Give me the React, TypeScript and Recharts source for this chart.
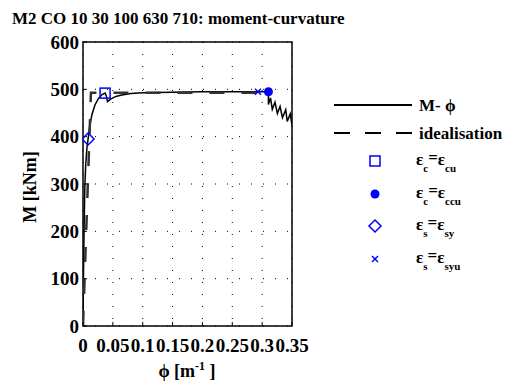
import React from "react";
import {
  CartesianGrid,
  ComposedChart,
  Line,
  ReferenceArea,
  Scatter,
  XAxis,
  YAxis,
} from "recharts";

// moment-curvature response
const curvePhi = [
  0, 0.0005, 0.0012, 0.002, 0.003, 0.0045, 0.0065, 0.0085, 0.011, 0.015, 0.02,
  0.026, 0.032, 0.037, 0.039, 0.041, 0.043, 0.047, 0.055, 0.065, 0.08, 0.1,
  0.15, 0.2, 0.25, 0.3, 0.3105, 0.3105, 0.314, 0.317, 0.3215, 0.3255, 0.33,
  0.334, 0.3395, 0.342, 0.347, 0.35,
];
const curveM = [
  0, 80, 150, 220, 290, 340, 375, 395, 420, 447, 467, 481, 489, 492, 486, 474,
  476, 480, 485, 488, 491, 493, 494, 495, 495, 495, 495, 468, 482, 458, 473,
  449, 464, 440, 457, 432, 448, 424,
];

// bilinear idealisation
const idealPhi = [0, 0.0133, 0.293];
const idealM = [0, 493, 493];

// limit states
const pointCu = [{ phi: 0.037, m: 492 }];
const pointCcu = [{ phi: 0.3105, m: 495 }];
const pointSy = [{ phi: 0.0085, m: 395 }];
const pointSyu = [{ phi: 0.293, m: 495 }];

const xTicks = [0, 0.05, 0.1, 0.15, 0.2, 0.25, 0.3, 0.35];
const yTicks = [0, 100, 200, 300, 400, 500, 600];

const curve = curvePhi.map((phi, i) => ({ phi, m: curveM[i] }));
const ideal = idealPhi.map((phi, i) => ({ phi, m: idealM[i] }));

const FONT = "'Liberation Serif', 'Times New Roman', serif";
const BLUE = "#0000ff";

const tickStyle = { fill: "#000", fontSize: 19, fontWeight: 700, fontFamily: FONT };

const Square = (p: any) => (
  <rect x={p.cx - 5} y={p.cy - 5} width={10} height={10} fill="none" stroke={BLUE} strokeWidth={1.5} />
);
const Dot = (p: any) => <circle cx={p.cx} cy={p.cy} r={4.5} fill={BLUE} />;
const Diamond = (p: any) => (
  <polygon
    points={`${p.cx},${p.cy - 6} ${p.cx + 6},${p.cy} ${p.cx},${p.cy + 6} ${p.cx - 6},${p.cy}`}
    fill="none"
    stroke={BLUE}
    strokeWidth={1.5}
  />
);
const Cross = (p: any) => (
  <g stroke={BLUE} strokeWidth={1.5}>
    <line x1={p.cx - 3} y1={p.cy - 3} x2={p.cx + 3} y2={p.cy + 3} />
    <line x1={p.cx - 3} y1={p.cy + 3} x2={p.cx + 3} y2={p.cy - 3} />
  </g>
);

function Eps({ y, a, b }: { y: number; a: string; b: string }) {
  return (
    <text x={416} y={y} fontSize={17} fontWeight={700} fontFamily={FONT}>
      ε
      <tspan dy={7} fontSize={11}>{a}</tspan>
      <tspan dy={-9} fontSize={17}>=</tspan>
      <tspan dy={2} fontSize={17}>ε</tspan>
      <tspan dy={7} fontSize={11}>{b}</tspan>
    </text>
  );
}

function Overlay() {
  return (
    <svg
      width={511}
      height={385}
      style={{ position: "absolute", left: 0, top: 0, pointerEvents: "none" }}
    >
      <text x={12} y={24} fontSize={17} fontWeight={700} fontFamily={FONT}>
        M2 CO 10 30 100 630 710: moment-curvature
      </text>
      <text
        x={30}
        y={187}
        transform="rotate(-90 30 187)"
        textAnchor="middle"
        dominantBaseline="central"
        fontSize={18}
        fontWeight={700}
        fontFamily={FONT}
      >
        M [kNm]
      </text>
      <text x={187} y={377} textAnchor="middle" fontSize={18} fontWeight={700} fontFamily={FONT}>
        ϕ [m<tspan dy={-7} fontSize={12}>-1</tspan>
        <tspan dy={7}> ]</tspan>
      </text>

      {/* legend */}
      <line x1={334} y1={105} x2={412} y2={105} stroke="#000" strokeWidth={2} />
      <text x={419} y={111} fontSize={17} fontWeight={700} fontFamily={FONT}>
        M- ϕ
      </text>
      <line x1={334} y1={133} x2={412} y2={133} stroke="#000" strokeWidth={2} strokeDasharray="16 15" />
      <text x={419} y={139} fontSize={17} fontWeight={700} fontFamily={FONT}>
        idealisation
      </text>
      <Square cx={375} cy={161} />
      <Eps y={165} a="c" b="cu" />
      <Dot cx={375} cy={194} />
      <Eps y={198} a="c" b="ccu" />
      <Diamond cx={375} cy={226} />
      <Eps y={230} a="s" b="sy" />
      <Cross cx={375} cy={259} />
      <Eps y={263} a="s" b="syu" />
    </svg>
  );
}

export default function App() {
  return (
    <div style={{ position: "absolute", left: 0, top: 0, width: 511, height: 385, background: "#fff" }}>
      <ComposedChart width={511} height={385} margin={{ top: 42, right: 219, bottom: 0, left: 0 }}>
        <CartesianGrid stroke="#000" strokeDasharray="1 11" />
        <XAxis
          dataKey="phi"
          type="number"
          domain={[0, 0.35]}
          ticks={xTicks}
          interval={0}
          allowDataOverflow
          height={59}
          tickSize={-4}
          tickMargin={17}
          axisLine={false}
          tickLine={{ stroke: "#000" }}
          tick={tickStyle}
        />
        <XAxis
          xAxisId="top"
          orientation="top"
          type="number"
          domain={[0, 0.35]}
          ticks={xTicks}
          height={0}
          tickSize={-4}
          axisLine={false}
          tickLine={{ stroke: "#000" }}
          tick={false}
        />
        <YAxis
          type="number"
          domain={[0, 600]}
          ticks={yTicks}
          interval={0}
          allowDataOverflow
          width={83}
          tickSize={-4}
          tickMargin={8}
          axisLine={false}
          tickLine={{ stroke: "#000" }}
          tick={tickStyle}
        />
        <YAxis
          yAxisId="right"
          orientation="right"
          type="number"
          domain={[0, 600]}
          ticks={yTicks}
          width={0}
          tickSize={-4}
          axisLine={false}
          tickLine={{ stroke: "#000" }}
          tick={false}
        />
        <ReferenceArea x1={0} x2={0.35} y1={0} y2={600} fill="none" stroke="#000" strokeWidth={1.5} />
        <Line data={curve} dataKey="m" type="linear" stroke="#000" strokeWidth={1.5} dot={false} isAnimationActive={false} />
        <Line
          data={ideal}
          dataKey="m"
          type="linear"
          stroke="#333"
          strokeWidth={2.5}
          strokeDasharray="15 17"
          dot={false}
          isAnimationActive={false}
        />
        <Scatter data={pointCu} dataKey="m" shape={Square} isAnimationActive={false} />
        <Scatter data={pointCcu} dataKey="m" shape={Dot} isAnimationActive={false} />
        <Scatter data={pointSy} dataKey="m" shape={Diamond} isAnimationActive={false} />
        <Scatter data={pointSyu} dataKey="m" shape={Cross} isAnimationActive={false} />
      </ComposedChart>
      <Overlay />
    </div>
  );
}
